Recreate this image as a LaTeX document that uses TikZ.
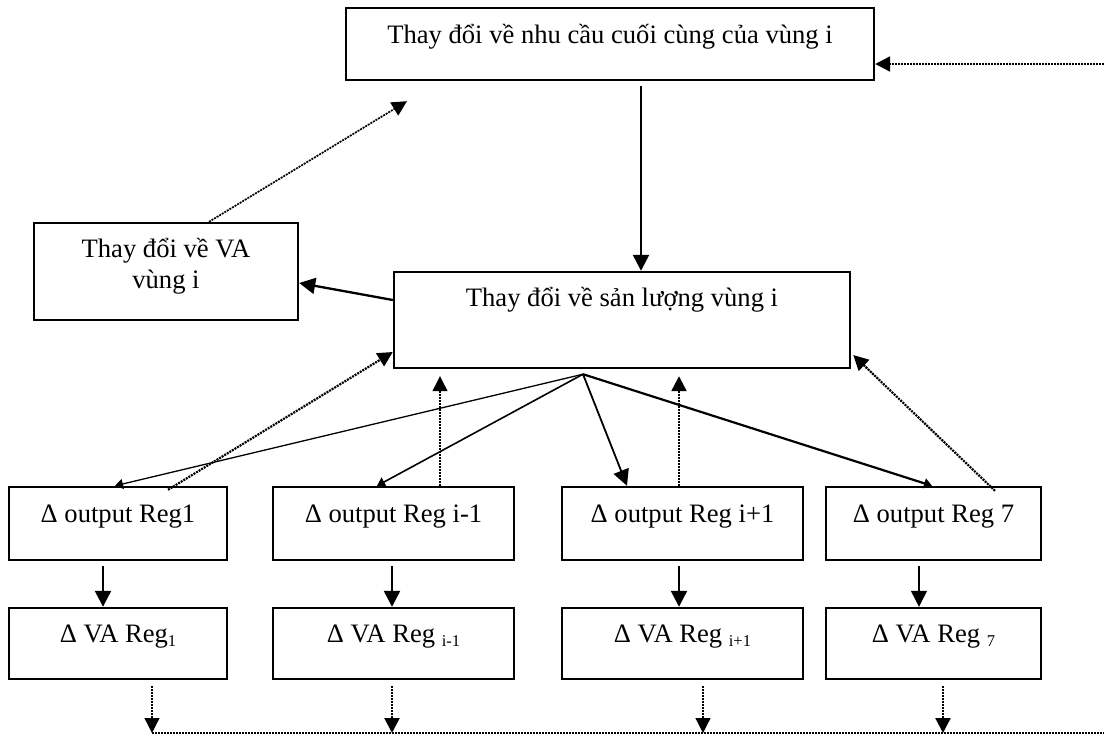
\documentclass[tikz,border=0pt]{standalone}
\usepackage{fontspec}
\setmainfont{Liberation Serif}
\usetikzlibrary{arrows.meta,calc}
\newcommand{\mysub}[1]{\raisebox{-4pt}{\fontsize{16.5}{18}\selectfont #1}}
\begin{document}
\begin{tikzpicture}[x=1pt,y=-1pt,
  box/.style={draw,line width=2.4pt,inner xsep=0pt,inner ysep=0pt,font=\fontsize{26.6}{31}\selectfont},
  obox/.style={box,minimum width=#1,text height=35pt,text depth=38pt},
  vbox/.style={box,minimum width=#1,text height=34pt,text depth=37pt},
  arr/.style={line width=2.3pt,-{Triangle[length=16pt,width=16pt]}},
  thinarr/.style={line width=1.3pt,-{Triangle[length=8pt,width=10pt]}},
  dotarr/.style={line width=2.2pt,dash pattern=on 2pt off 1pt,-{Triangle[length=15pt,width=15pt]}},
  dotline/.style={line width=2.2pt,dash pattern=on 2pt off 1pt}]
\path[use as bounding box,fill=white] (0,0) rectangle (1104,736);

% boxes
\node[box,minimum width=528pt,text height=35pt,text depth=37pt] (top) at (610,44) {Thay đổi về nhu cầu cuối cùng của vùng i};
\node[box,minimum width=264pt,text height=65pt,text depth=32pt] (va) at (166,271.5) {\begin{tabular}[b]{@{}c@{}}Thay đổi về VA\\vùng i\end{tabular}};
\node[box,minimum width=456pt,text height=34pt,text depth=62pt] (mid) at (622,320) {Thay đổi về sản lượng vùng i};

\node[obox=218pt] (o1) at (118,523.5) {Δ output Reg1};
\node[obox=241pt] (o2) at (393.5,523.5) {Δ output Reg i-1};
\node[obox=241pt] (o3) at (682.5,523.5) {Δ output Reg i+1};
\node[obox=215pt] (o4) at (933.5,523.5) {Δ output Reg 7};

\node[vbox=218pt] (v1) at (118,643.5) {Δ VA Reg\mysub{1}};
\node[vbox=241pt] (v2) at (393.5,643.5) {Δ VA Reg \mysub{i-1}};
\node[vbox=241pt] (v3) at (682.5,643.5) {Δ VA Reg \mysub{i+1}};
\node[vbox=215pt] (v4) at (933.5,643.5) {Δ VA Reg \mysub{7}};

% top part connectors
\draw[arr] ([xshift=31pt,yshift=-5pt]top.south) -- ([xshift=19pt]mid.north);
\draw[arr] ([yshift=20pt]mid.west) -- ([yshift=-11.5pt]va.east);
\draw[dotarr,line width=1.7pt] ([xshift=43pt]va.north) -- ([xshift=-203pt,yshift=-20pt]top.south);
\coordinate (rin) at (1104,64);
\draw[dotarr] (rin) -- ([yshift=-20pt]top.east);

% fan
\coordinate (fan) at ([xshift=-39pt,yshift=-5pt]mid.south);
\draw[thinarr] (fan) -- ([xshift=-3pt]o1.north);
\draw[thinarr,line width=1.6pt] (fan) -- ([xshift=-16.5pt]o2.north);
\draw[arr,line width=1.8pt] (fan) -- ([xshift=-55.5pt]o3.north);
\draw[thinarr,line width=2.2pt] (fan) -- ([xshift=-1.5pt]o4.north);

% dotted upward
\draw[dotarr] ([xshift=50pt,yshift=-4pt]o1.north) -- ([yshift=-32pt]mid.west);
\draw[dotarr,line width=1.2pt] ([xshift=46.5pt]o2.north) -- ([xshift=-182pt,yshift=-7pt]mid.south);
\draw[dotarr] ([xshift=-3.5pt]o3.north) -- ([xshift=57pt,yshift=-7pt]mid.south);
\draw[dotarr] ([xshift=61.5pt,yshift=-5pt]o4.north) -- ([xshift=2pt,yshift=-35pt]mid.east);

% output -> VA
\draw[arr] ([xshift=-15pt,yshift=-5pt]o1.south) -- ([xshift=-15pt]v1.north);
\draw[arr] ([xshift=-1.5pt,yshift=-5pt]o2.south) -- ([xshift=-1.5pt]v2.north);
\draw[arr] ([xshift=-3.5pt,yshift=-5pt]o3.south) -- ([xshift=-3.5pt]v3.north);
\draw[arr,line width=1.2pt] ([xshift=-14.5pt,yshift=-5pt]o4.south) -- ([xshift=-14.5pt]v4.north);

% bottom dotted
\coordinate (bl) at (152,733);
\coordinate (br) at (1104,733);
\coordinate (d1) at ([xshift=34pt,yshift=-6pt]v1.south);
\coordinate (d2) at ([xshift=-1.5pt,yshift=-6pt]v2.south);
\coordinate (d3) at ([xshift=20.5pt,yshift=-6pt]v3.south);
\coordinate (d4) at ([xshift=9.5pt,yshift=-6pt]v4.south);
\draw[dotarr,line width=1.2pt] (d1) -- (d1 |- bl);
\draw[dotarr] (d2) -- (d2 |- bl);
\draw[dotarr,line width=1.2pt] (d3) -- (d3 |- bl);
\draw[dotarr] (d4) -- (d4 |- bl);
\draw[dotline] (bl) -- (br);
\end{tikzpicture}
\end{document}
